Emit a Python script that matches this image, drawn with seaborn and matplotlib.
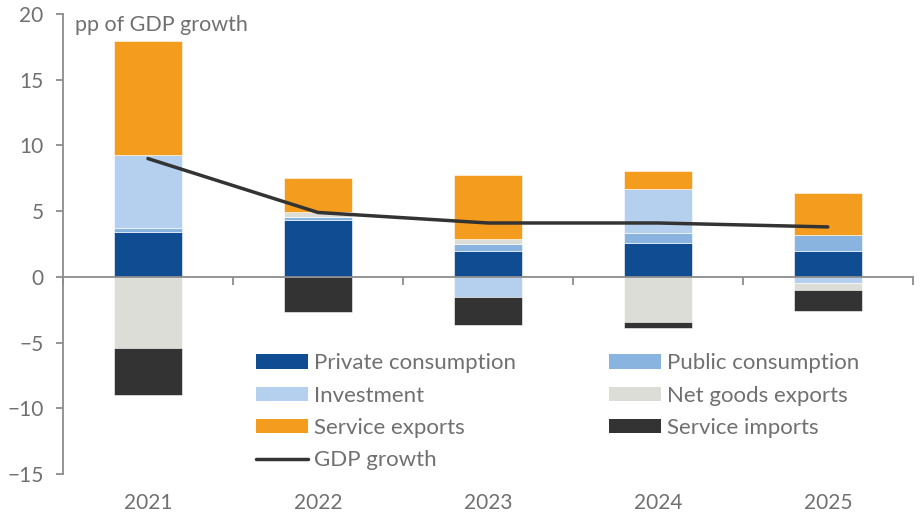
import numpy as np
import pandas as pd
import matplotlib
matplotlib.use("Agg")
import matplotlib.pyplot as plt
from matplotlib.patches import Patch
from matplotlib.lines import Line2D
import seaborn as sns

# Contributions to GDP growth, percentage points
years = ["2021", "2022", "2023", "2024", "2025"]
private_consumption = [3.40, 4.34, 2.00, 2.61, 1.93]
public_consumption = [0.33, 0.25, 0.49, 0.71, 1.24]
investment = [5.53, 0.00, -1.52, 3.38, -0.48]
net_goods_exports = [-5.43, 0.38, 0.38, -3.40, -0.51]
service_exports = [8.72, 2.56, 4.87, 1.34, 3.22]
service_imports = [-3.55, -2.64, -2.11, -0.50, -1.57]
gdp_growth = [9.0, 4.9, 4.1, 4.1, 3.8]

series_names = ["Private consumption", "Public consumption", "Investment",
                "Net goods exports", "Service exports", "Service imports"]
series_values = [private_consumption, public_consumption, investment,
                 net_goods_exports, service_exports, service_imports]
series_colors = ["#0F4C92", "#8AB4E0", "#B5D0EE", "#DDDDD8", "#F39C1D", "#333333"]
line_color = "#333333"
text_color = "#707070"
axis_color = "#8C8C8C"

sns.set_theme(style="white")
plt.rcParams["font.family"] = ["Lato", "DejaVu Sans"]

fig = plt.figure(figsize=(9.22, 5.19), dpi=100)
ax = fig.add_axes([0.0683, 0.0867, 0.9217, 0.8863])

x = np.arange(len(years))
pos_base = np.zeros(len(years))
neg_base = np.zeros(len(years))
for name, vals, col in zip(series_names, series_values, series_colors):
    vals = np.asarray(vals, dtype=float)
    bottoms = np.where(vals >= 0, pos_base, neg_base)
    ax.bar(x, vals, width=0.4, bottom=bottoms, color=col,
           edgecolor="white", linewidth=0.4, zorder=2)
    pos_base = pos_base + np.clip(vals, 0, None)
    neg_base = neg_base + np.clip(vals, None, 0)

line_df = pd.DataFrame({"x": x, "gdp": gdp_growth})
sns.lineplot(data=line_df, x="x", y="gdp", ax=ax, color=line_color,
             linewidth=2.5, zorder=4, legend=False)

ax.set_xlim(-0.5, len(years) - 0.5)
ax.set_ylim(-15, 20)
ax.set_yticks(np.arange(-15, 21, 5))
ax.set_xticks(x)
ax.set_xticklabels(years)
ax.set_xlabel("")
ax.set_ylabel("")

for s in ["top", "right", "bottom"]:
    ax.spines[s].set_visible(False)
ax.spines["left"].set_color(axis_color)
ax.spines["left"].set_linewidth(1.3)

ax.tick_params(axis="y", which="both", left=True, length=5, width=1.3,
               color=axis_color, labelcolor=text_color, labelsize=15, pad=9)
ax.tick_params(axis="x", which="both", bottom=False, length=0,
               labelcolor=text_color, labelsize=15, pad=14)

# Zero line with category separator ticks
ylo, yhi = ax.get_ylim()
zero_frac = (0 - ylo) / (yhi - ylo)
sec = ax.secondary_xaxis(zero_frac)
sec.set_zorder(3)
sec.set_xticks(np.arange(len(years) + 1) - 0.5)
sec.set_xticklabels([])
sec.spines["bottom"].set_color(axis_color)
sec.spines["bottom"].set_linewidth(1.3)
sec.tick_params(axis="x", direction="out", length=6, width=1.3, color=axis_color)

ax.text(0.014, 0.997, "pp of GDP growth", transform=ax.transAxes,
        ha="left", va="top", color=text_color, fontsize=15.5)

handles = {n: Patch(facecolor=c, edgecolor="none") for n, c in zip(series_names, series_colors)}
handles["GDP growth"] = Line2D([0], [0], color=line_color, linewidth=2.5)
order = ["Private consumption", "Investment", "Service exports", "GDP growth",
         "Public consumption", "Net goods exports", "Service imports"]
leg = ax.legend([handles[k] for k in order], order, ncol=2, loc="upper left",
                bbox_to_anchor=(0.227, 0.262), frameon=False, fontsize=16,
                handlelength=2.35, handleheight=0.63, handletextpad=0.25,
                columnspacing=4.2, labelspacing=0.55, borderpad=0, borderaxespad=0)
for t in leg.get_texts():
    t.set_color(text_color)

fig.savefig("out.png", dpi=100)
